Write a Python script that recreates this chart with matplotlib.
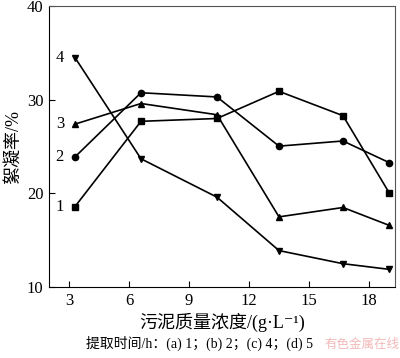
import matplotlib
matplotlib.use("Agg")
import matplotlib.pyplot as plt

FONTS = ["Liberation Serif", "Noto Sans CJK SC", "DejaVu Sans"]
plt.rcParams["font.family"] = FONTS

conc = [3.3, 6.6, 10.4, 13.5, 16.7, 19.0]
rate_1h = [18.6, 27.7, 28.0, 30.9, 28.3, 20.1]
rate_2h = [23.9, 30.75, 30.3, 25.05, 25.6, 23.3]
rate_4h = [27.4, 29.6, 28.4, 17.5, 18.5, 16.6]
rate_5h = [34.5, 23.7, 19.6, 13.9, 12.5, 11.9]
curve_labels = ["1", "2", "3", "4"]
markers = ["s", "o", "^", "v"]

xticks = [3, 6, 9, 12, 15, 18]
yticks = [10, 20, 30, 40]

fig = plt.figure(figsize=(4.0, 3.58), dpi=100)
ax = fig.add_axes([0.1225, 0.198, 0.865, 0.785])

for ys, m, lab in zip([rate_1h, rate_2h, rate_4h, rate_5h], markers, curve_labels):
    ax.plot(conc, ys, color="black", lw=1.2, marker=m, ms=4.5, mec="black", mfc="black")
    ax.text(conc[0] - 0.55, ys[0], lab, ha="right", va="center", fontsize=12)

ax.set_xlim(2.0, 19.3)
ax.set_ylim(10, 40)
ax.set_xticks(xticks)
ax.set_yticks(yticks)
ax.tick_params(direction="in", length=4, labelsize=12, width=0.8, pad=4)
for s in ax.spines.values():
    s.set_color("#555555")
ax.spines["left"].set_color("black")
ax.spines["bottom"].set_color("black")

ax.set_ylabel("絮凝率/%", fontsize=13, labelpad=4)
ax.set_xlabel("污泥质量浓度/(g·L⁻¹)", fontsize=13, labelpad=3)

fig.text(0.5, 0.02, "提取时间/h：(a) 1；(b) 2；(c) 4；(d) 5", ha="center",
         va="bottom", fontsize=10)
fig.text(0.998, 0.02, "有色金属在线", ha="right", va="bottom", fontsize=9,
         color="#f2b8b8", family=["Noto Sans CJK SC"])

fig.savefig("out.png", dpi=100)
